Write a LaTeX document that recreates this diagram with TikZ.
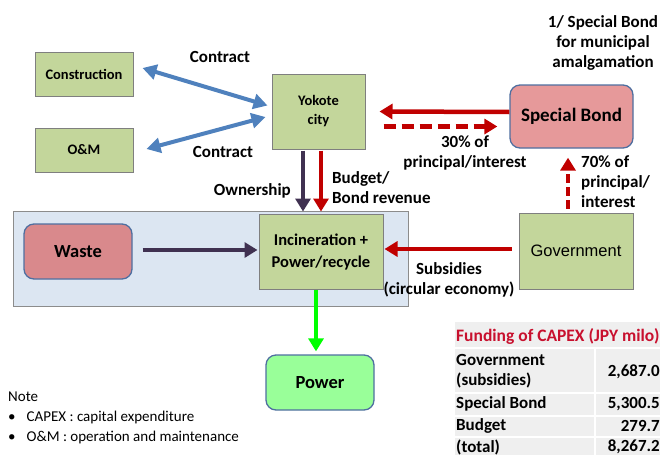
\documentclass[tikz,border=0pt]{standalone}
\usepackage{fontspec}
\setmainfont{Carlito}
\newfontfamily\govfont{Liberation Sans}
\usetikzlibrary{arrows.meta}
\definecolor{boxgreen}{HTML}{C3D69B}
\definecolor{boxline}{HTML}{7F7F7F}
\definecolor{sbfill}{HTML}{E6999A}
\definecolor{wastefill}{HTML}{D9898C}
\definecolor{roundline}{HTML}{4F6FA0}
\definecolor{bluearr}{HTML}{4F81BD}
\definecolor{redarr}{HTML}{C00000}
\definecolor{purparr}{HTML}{403151}
\definecolor{greenarr}{HTML}{00FF00}
\definecolor{powerfill}{HTML}{99FF99}
\definecolor{panelfill}{HTML}{DCE6F2}
\definecolor{panelline}{HTML}{8C8C8C}
\definecolor{tablefill}{HTML}{EFEFEF}
\definecolor{tabred}{HTML}{C8102E}
\newcommand\lblfont{\fontsize{17}{20}\selectfont\bfseries}
\begin{document}
\begin{tikzpicture}[x=1pt,y=-1pt,
  sqbox/.style={draw=boxline, line width=1pt, fill=boxgreen, inner sep=0pt, align=center},
  rbox/.style={draw=roundline, line width=1.3pt, rounded corners=10pt, inner sep=0pt, align=center},
  lbl/.style={font=\lblfont, inner sep=0pt, align=center},
  bluearrow/.style={draw=bluearr, line width=4pt, {Triangle[length=14pt,width=15pt]}-{Triangle[length=14pt,width=15pt]}},
  redarrow/.style={draw=redarr, line width=4.5pt, -{Triangle[length=13pt,width=15pt]}},
  purparrow/.style={draw=purparr, line width=4.5pt, -{Triangle[length=13pt,width=15pt]}},
  greenarrow/.style={draw=greenarr, line width=4.5pt, -{Triangle[length=13pt,width=15pt]}},
]
\useasboundingbox (0,0) rectangle (660,455);

% panel
\draw[fill=panelfill, draw=panelline, line width=1pt] (13,211) rectangle (408,306);

% boxes
\node[sqbox, minimum width=98pt, minimum height=44pt, font=\fontsize{14.5}{17}\selectfont\bfseries] (con) at (84,74) {Construction};
\node[sqbox, minimum width=98pt, minimum height=44pt, font=\fontsize{14.5}{17}\selectfont\bfseries] (om) at (84,150) {O\&M};
\node[sqbox, minimum width=93pt, minimum height=75pt, font=\fontsize{14.5}{19}\selectfont\bfseries] (yok) at (318.5,111.5) {Yokote\\city};
\node[rbox, fill=sbfill, minimum width=123pt, minimum height=63pt, font=\fontsize{19}{22}\selectfont\bfseries] (sb) at (571.5,116.5) {Special Bond};
\node[rbox, fill=wastefill, minimum width=108pt, minimum height=55pt, font=\fontsize{18.5}{22}\selectfont\bfseries] (waste) at (78,251.5) {Waste};
\node[sqbox, minimum width=124pt, minimum height=75pt, font=\fontsize{16.5}{22}\selectfont\bfseries] (inc) at (321,251.5) {Incineration +\\Power/recycle};
\node[sqbox, minimum width=114pt, minimum height=76pt, font=\govfont\fontsize{16.5}{18}\selectfont] (gov) at (576,251) {Government};
\node[rbox, fill=powerfill, minimum width=108pt, minimum height=55pt, font=\fontsize{18.5}{22}\selectfont\bfseries] (pow) at (320,382.5) {Power};

% arrows
\draw[bluearrow] ([shift={(9,-6)}]con.east) -- ([shift={(-4,-6)}]yok.west);
\draw[bluearrow] ([shift={(13,-1)}]om.east) -- ([shift={(-6,5.5)}]yok.west);
\draw[redarrow] ([shift={(0,-4.5)}]sb.west) -- ([shift={(14,0)}]yok.east);
\draw[redarrow, dash pattern=on 12pt off 6pt] ([shift={(18,15)}]yok.east) -- ([shift={(-12,10)}]sb.west);
\draw[purparrow] ([shift={(-15.5,1)}]yok.south) -- ([shift={(-18,-2)}]inc.north);
\draw[redarrow] ([shift={(2.5,1)}]yok.south) -- ([shift={(0,-2)}]inc.north);
\draw[purparrow] ([shift={(10,-1.5)}]waste.east) -- ([shift={(-1,-1.5)}]inc.west);
\draw[redarrow] ([shift={(-7,-2)}]gov.west) -- ([shift={(1,-2.5)}]inc.east);
\draw[redarrow, dash pattern=on 9pt off 4pt] ([shift={(-8,-4)}]gov.north) -- ([shift={(-3.5,9)}]sb.south);
\draw[greenarrow] ([shift={(-5,0)}]inc.south) -- ([shift={(-4,-3)}]pow.north);

% labels
\node[lbl] (lc1) at (220,57) {Contract};
\node[lbl] (lc2) at (223,152) {Contract};
\node[lbl] (lsb) at (603,43) {1/ Special Bond\\for municipal\\amalgamation};
\node[lbl] (l30) at (465,153) {30\% of\\principal/interest};
\node[lbl, anchor=east] (lown) at (291,191) {Ownership};
\node[lbl, anchor=west, align=left] (lbud) at (332,188) {Budget/\\Bond revenue};
\node[lbl, anchor=west, align=left] (l70) at (581,182) {70\% of\\principal/\\interest};
\node[lbl] (lsub) at (449,280) {Subsidies\\(circular economy)};

% note
\node[inner sep=0pt, anchor=west, font=\fontsize{15}{20}\selectfont] (note) at (8,397) {Note};
\node[inner sep=0pt, anchor=west, font=\fontsize{15}{20}\selectfont] (n1) at (8,417) {\textbullet\hspace{11pt}CAPEX : capital expenditure};
\node[inner sep=0pt, anchor=west, font=\fontsize{15}{20}\selectfont] (n2) at (8,437) {\textbullet\hspace{11pt}O\&M : operation and maintenance};

% table
\fill[tablefill] (455,322) rectangle (660,455);
\draw[white, line width=1.2pt] (455,348) -- (660,348) (455,393) -- (660,393) (455,416) -- (660,416) (455,437) -- (660,437) (595,348) -- (595,455);
\node[inner sep=0pt, anchor=west, font=\fontsize{17.5}{20}\selectfont\bfseries, text=tabred] (tt) at (456,336) {Funding of CAPEX (JPY milo)};
\begin{scope}[every node/.style={inner sep=0pt, font=\fontsize{17}{20}\selectfont\bfseries}]
\node[anchor=west, align=left] (r1) at (456,371) {Government\\(subsidies)};
\node[anchor=east] (v1) at (660,372) {2,687.0};
\node[anchor=west] (r2) at (456,404) {Special Bond};
\node[anchor=east] (v2) at (660,404) {5,300.5};
\node[anchor=west] (r3) at (456,426) {Budget};
\node[anchor=east] (v3) at (660,426) {279.7};
\node[anchor=west] (r4) at (456,447) {(total)};
\node[anchor=east] (v4) at (660,447) {8,267.2};
\end{scope}
\end{tikzpicture}
\end{document}
